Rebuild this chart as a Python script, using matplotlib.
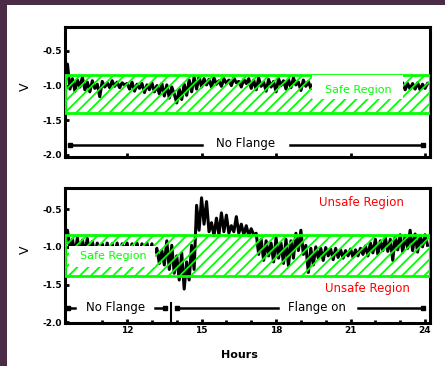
import numpy as np
import matplotlib
matplotlib.use("Agg")
import matplotlib.pyplot as plt
from matplotlib.patches import Rectangle

plt.rcParams['axes.unicode_minus'] = False
plt.rcParams['hatch.linewidth'] = 1.3
plt.rcParams['hatch.color'] = '#00ff00'

# readings, every 0.1 h starting at 9.5 h (one row = one hour)
t0 = 9.5
dt = 0.1
v_top = [
    -0.95, -0.69, -1.05, -0.90, -1.08, -0.92, -1.02, -0.88, -1.06, -0.95,
    -1.09, -0.93, -1.04, -0.98, -1.16, -0.94, -1.02, -0.96, -1.03, -0.93,
    -1.01, -0.95, -1.03, -0.96, -0.99, -0.97, -1.05, -0.95, -1.08, -0.98,
    -1.04, -0.97, -1.10, -0.99, -1.06, -0.96, -1.09, -1.00, -1.12, -0.97,
    -1.15, -0.99, -1.18, -1.02, -1.12, -1.25, -1.05, -1.20, -0.98, -1.14,
    -0.92, -1.09, -0.88, -1.05, -0.87, -1.02, -0.90, -0.99, -0.91, -1.02,
    -0.89, -0.98, -0.93, -1.01, -0.90, -0.97, -0.92, -1.00, -0.89, -0.96,
    -0.94, -1.02, -0.91, -0.97, -0.90, -1.04, -0.92, -1.06, -0.89, -1.01,
    -0.95, -1.08, -0.91, -1.02, -0.94, -1.09, -0.90, -1.00, -0.93, -1.05,
    -0.91, -1.03, -0.89, -0.99, -0.95, -1.07, -0.92, -1.01, -0.94, -1.04,
    -0.97, -1.02, -0.95, -1.04, -0.98, -1.01, -0.96, -1.03, -0.97, -1.02,
    -0.96, -1.03, -0.97, -1.02, -0.95, -1.04, -0.98, -1.01, -0.96, -1.03,
    -0.97, -1.02, -0.96, -1.04, -0.98, -1.02, -0.95, -1.03, -0.97, -1.01,
    -0.96, -1.03, -0.97, -1.02, -0.98, -1.04, -0.96, -1.06, -0.97, -1.05,
    -0.97, -1.05, -0.96, -1.06, -0.98, -1.04, -0.97,
]
v_bot = [
    -0.95, -0.78, -1.02, -0.90, -1.10, -0.88, -1.15, -0.91, -1.08, -0.89,
    -1.12, -0.93, -1.10, -0.95, -1.15, -0.96, -1.08, -0.95, -1.12, -0.96,
    -1.10, -0.95, -1.14, -0.96, -1.05, -0.95, -1.12, -0.96, -1.09, -0.95,
    -1.12, -0.96, -1.06, -0.95, -1.10, -0.96, -1.08, -1.02, -1.22, -1.05,
    -1.24, -0.92, -1.30, -0.98, -1.35, -1.12, -1.44, -1.08, -1.56, -1.20,
    -1.44, -0.98, -1.30, -0.45, -0.78, -0.35, -0.70, -0.40, -0.80, -0.68,
    -0.85, -0.62, -0.84, -0.55, -0.80, -0.58, -0.82, -0.72, -0.80, -0.60,
    -0.82, -0.70, -0.84, -0.72, -0.85, -0.76, -0.84, -0.82, -1.10, -0.90,
    -1.18, -0.92, -1.12, -0.95, -1.20, -0.88, -1.15, -0.95, -1.22, -0.90,
    -1.25, -0.92, -1.15, -0.82, -1.05, -0.78, -1.10, -0.98, -1.34, -1.02,
    -1.24, -1.00, -1.15, -1.02, -1.18, -1.01, -1.12, -1.03, -1.17, -1.02,
    -1.14, -1.04, -1.15, -1.05, -1.12, -1.03, -1.14, -1.04, -1.12, -1.02,
    -1.10, -0.99, -1.12, -0.95, -1.08, -0.90, -1.10, -0.92, -1.05, -0.88,
    -1.06, -0.90, -1.18, -0.86, -1.04, -0.84, -1.07, -0.85, -1.02, -0.78,
    -1.05, -0.83, -1.07, -0.85, -1.00, -0.84, -0.98,
]
h_top = t0 + dt * np.arange(len(v_top))
h_bot = t0 + dt * np.arange(len(v_bot))

safe_lo, safe_hi = -1.39, -0.84
major_ticks = [12, 15, 18, 21, 24]
y_ticks = [-0.5, -1.0, -1.5, -2.0]

fig = plt.figure(figsize=(4.45, 3.66), dpi=100)
fig.patch.set_facecolor('white')
purple = '#4b2c46'
fig.patches.append(Rectangle((0, 0), 7 / 445, 1, transform=fig.transFigure,
                             facecolor=purple, edgecolor='none'))
fig.patches.append(Rectangle((0, 1 - 5 / 366), 1, 5 / 366, transform=fig.transFigure,
                             facecolor=purple, edgecolor='none'))

ax1 = fig.add_axes([65 / 445, 0.571, 365 / 445, 130 / 366])
ax2 = fig.add_axes([65 / 445, 43 / 366, 365 / 445, 135 / 366])

for ax, ylim in ((ax1, (-2.03, -0.155)), (ax2, (-2.01, -0.22))):
    ax.set_xlim(9.5, 24.2)
    ax.set_ylim(*ylim)
    ax.set_yticks(y_ticks)
    ax.set_yticklabels(['%.1f' % y for y in y_ticks], fontweight='bold', fontsize=6.5)
    ax.set_xticks(major_ticks)
    ax.tick_params(direction='in', length=3, width=2, pad=2)
    for s in ax.spines.values():
        s.set_linewidth(2.2)
    band = Rectangle((9.5, safe_lo), 14.7, safe_hi - safe_lo, facecolor='none',
                     edgecolor='#00ff00', hatch='///', linewidth=2, zorder=3)
    ax.add_patch(band)
    ax.set_ylabel('V', fontsize=9)
    ax.yaxis.set_label_coords(-0.09, 0.54)

ax1.set_xticklabels([])
ax2.set_xticklabels([str(t) for t in major_ticks], fontweight='bold', fontsize=6.5)
ax2.set_xticks(range(11, 24), minor=True)
ax2.tick_params(which='minor', direction='in', length=2, width=2)
ax2.set_xlabel('Hours', fontweight='bold', fontsize=8)
ax2.xaxis.set_label_coords(0.477, -0.2)

# top panel
ax1.plot(h_top, v_top, color='black', lw=2.2, zorder=2)
ax1.add_patch(Rectangle((19.45, -1.19), 3.67, 0.34, facecolor='white',
                        edgecolor='none', zorder=4))
ax1.text(21.3, -1.07, 'Safe Region', color='#00ff00', fontsize=8,
         ha='center', va='center', zorder=5)
yl = -1.856
ax1.plot([9.7, 15.0], [yl, yl], color='black', lw=1.8)
ax1.plot([18.56, 23.92], [yl, yl], color='black', lw=1.8)
ax1.plot([9.7, 23.92], [yl, yl], 's', color='black', ms=3)
ax1.text(16.78, -1.835, 'No Flange', fontsize=8.5, ha='center', va='center')

# bottom panel
ax2.plot(h_bot, v_bot, color='black', lw=2.2, zorder=2)
ax2.add_patch(Rectangle((9.66, -1.27), 3.47, 0.28, facecolor='white',
                        edgecolor='none', zorder=4))
ax2.text(11.44, -1.12, 'Safe Region', color='#00ff00', fontsize=8,
         ha='center', va='center', zorder=5)
ax2.text(21.42, -0.41, 'Unsafe Region', color='red', fontsize=8.5,
         ha='center', va='center')
ax2.text(21.67, -1.55, 'Unsafe Region', color='red', fontsize=8.5,
         ha='center', va='center')
yb = -1.815
ax2.plot([9.62, 9.9], [yb, yb], color='black', lw=1.8)
ax2.plot([13.13, 13.53], [yb, yb], color='black', lw=1.8)
ax2.plot([9.62, 13.53], [yb, yb], 's', color='black', ms=3)
ax2.text(11.52, -1.80, 'No Flange', fontsize=8.5, ha='center', va='center')
ax2.plot([13.77, 13.77], [-1.75, -2.01], color='black', lw=1.5)
ax2.plot([14.01, 18.08], [yb, yb], color='black', lw=1.8)
ax2.plot([21.3, 23.92], [yb, yb], color='black', lw=1.8)
ax2.plot([14.01, 23.92], [yb, yb], 's', color='black', ms=3)
ax2.text(19.65, -1.80, 'Flange on', fontsize=8.5, ha='center', va='center')

fig.savefig('out.png', dpi=100)
